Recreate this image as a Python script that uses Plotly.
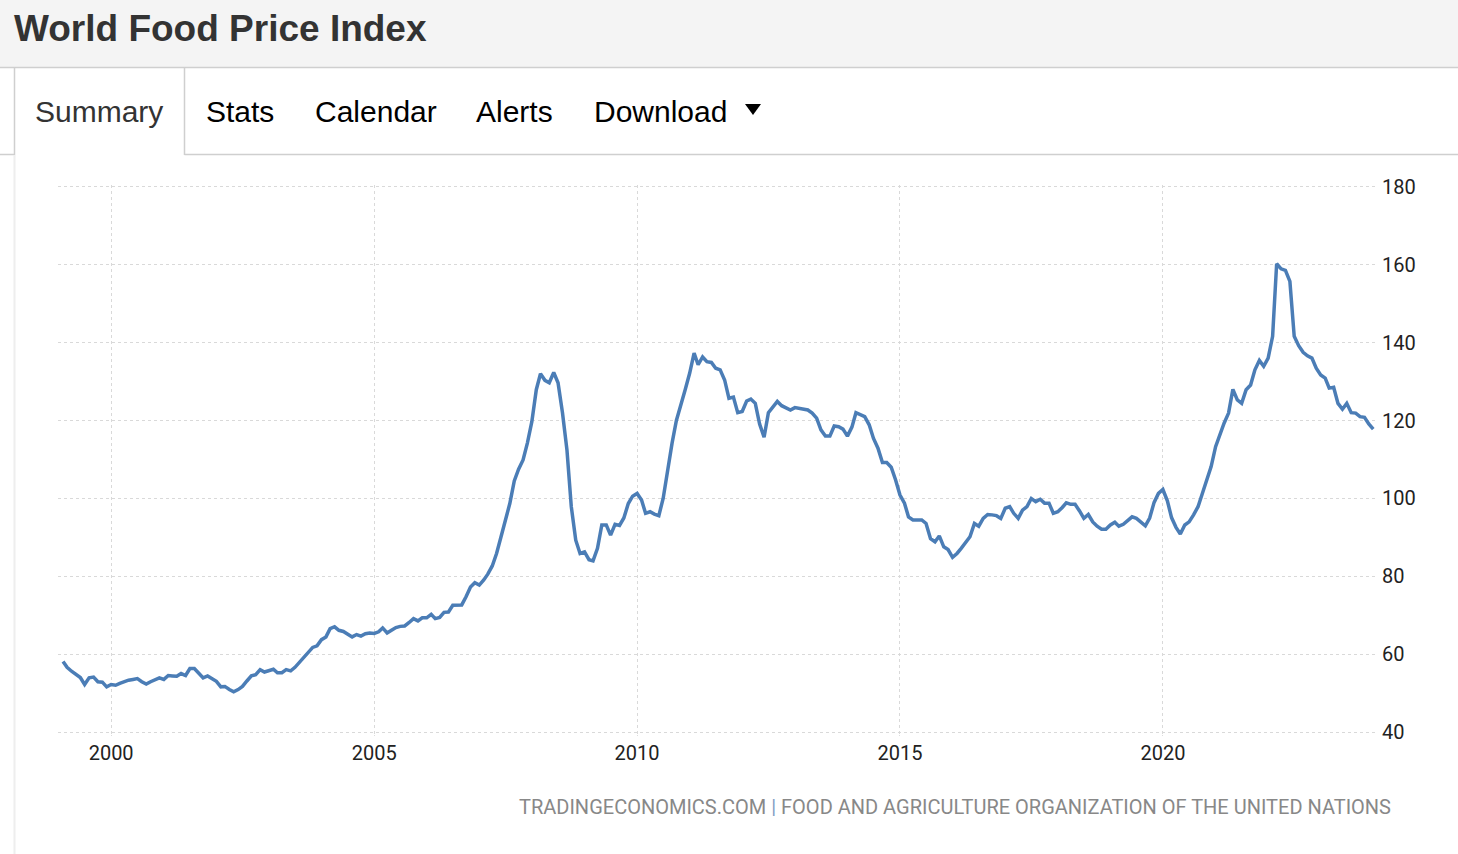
import pandas as pd
import plotly.graph_objects as go

# FAO food price index, monthly (starts Feb 1999)
start_month = "1999-02-01"
v1999 = [58.2, 56.7, 55.7, 55.0, 54.1, 52.3, 54.0, 54.2, 53.0, 52.9, 51.7]
v2000 = [52.3, 52.1, 52.6, 53.1, 53.4, 53.6, 53.8, 53.0, 52.4, 53.0, 53.5, 54.0]
v2001 = [53.6, 54.6, 54.5, 54.4, 55.1, 54.6, 56.4, 56.4, 55.2, 54.0, 54.5, 53.8]
v2002 = [53.1, 51.7, 51.8, 51.0, 50.4, 51.0, 51.8, 53.2, 54.5, 54.8, 56.1, 55.5]
v2003 = [55.8, 56.2, 55.3, 55.3, 56.1, 55.8, 56.7, 58.0, 59.3, 60.5, 61.8, 62.2]
v2004 = [63.8, 64.5, 66.6, 67.1, 66.2, 65.9, 65.2, 64.5, 65.1, 64.7, 65.3, 65.5]
v2005 = [65.4, 65.8, 66.8, 65.5, 66.2, 66.9, 67.2, 67.3, 68.2, 69.2, 68.6, 69.4]
v2006 = [69.4, 70.3, 69.2, 69.5, 70.8, 70.9, 72.6, 72.6, 72.7, 74.8, 77.3, 78.4]
v2007 = [77.8, 79.1, 80.6, 82.7, 85.9, 90.2, 94.5, 98.7, 104.5, 107.5, 109.9, 114.2]
v2008 = [119.7, 127.9, 132.0, 130.3, 129.7, 132.3, 129.7, 121.9, 112.4, 97.9, 89.3, 85.9]
v2009 = [86.3, 84.3, 84.0, 87.2, 93.2, 93.2, 90.6, 93.4, 93.1, 95.0, 98.7, 100.6]
v2010 = [101.3, 99.6, 96.2, 96.6, 96.0, 95.6, 100.0, 107.3, 114.2, 120.0, 123.8, 127.9]
v2011 = [132.1, 137.3, 134.3, 136.3, 135.1, 134.9, 133.4, 133.0, 130.4, 125.7, 126.0, 122.0]
v2012 = [122.3, 125.0, 125.5, 124.4, 119.1, 115.7, 122.0, 123.4, 124.9, 123.8, 123.3, 122.7]
v2013 = [123.3, 123.1, 122.7, 122.7, 121.9, 120.6, 117.6, 116.0, 116.0, 118.6, 118.4, 117.8]
v2014 = [116.0, 118.3, 122.0, 121.4, 121.0, 118.9, 115.4, 112.9, 109.2, 109.2, 108.0, 104.8]
v2015 = [100.9, 98.8, 95.3, 94.5, 94.6, 94.5, 93.6, 89.7, 88.9, 90.4, 87.6, 86.9]
v2016 = [84.9, 85.9, 87.2, 88.6, 90.2, 93.6, 92.9, 94.9, 95.9, 95.8, 95.6, 94.9]
v2017 = [97.5, 97.9, 96.2, 94.9, 97.0, 97.9, 100.0, 99.2, 99.8, 98.8, 98.8, 96.2]
v2018 = [96.6, 97.7, 98.9, 98.5, 98.5, 96.8, 94.9, 95.9, 94.0, 92.9, 92.1, 92.1]
v2019 = [93.2, 93.9, 92.9, 93.4, 94.2, 95.3, 94.9, 94.0, 93.0, 95.0, 99.0, 101.3]
v2020 = [102.3, 99.4, 95.1, 92.6, 90.9, 93.2, 94.0, 95.8, 97.9, 101.3, 105.2, 108.2]
v2021 = [113.3, 116.7, 119.3, 121.9, 128.0, 125.3, 124.4, 127.9, 129.1, 133.0, 135.4, 133.9]
v2022 = [136.0, 141.6, 160.2, 158.9, 158.5, 155.7, 141.6, 139.2, 137.5, 136.6, 136.0, 133.4]
v2023 = [131.7, 130.9, 128.3, 128.5, 124.4, 122.9, 124.4, 122.0, 121.9, 121.0, 120.8, 119.1]
v2024 = [117.8]

x_ticks = ["2000", "2005", "2010", "2015", "2020"]
y_ticks = [40, 60, 80, 100, 120, 140, 160, 180]
tabs = ["Summary", "Stats", "Calendar", "Alerts", "Download"]

values = (v1999 + v2000 + v2001 + v2002 + v2003 + v2004 + v2005 + v2006 + v2007
          + v2008 + v2009 + v2010 + v2011 + v2012 + v2013 + v2014 + v2015 + v2016
          + v2017 + v2018 + v2019 + v2020 + v2021 + v2022 + v2023 + v2024)
dates = pd.date_range(start_month, periods=len(values), freq="MS")

W, H = 1458, 854
L, R, T, B = 58, 1377, 185, 734


def px(x):
    return (x - L) / (R - L)


def py(y):
    return (B - y) / (B - T)


def hline(y, x0, x1, color="#cfcfcf", width=1.5):
    return dict(type="line", xref="paper", yref="paper", x0=px(x0), x1=px(x1),
                y0=py(y), y1=py(y), line=dict(color=color, width=width))


def vline(x, y0, y1, color="#cfcfcf", width=1.5):
    return dict(type="line", xref="paper", yref="paper", x0=px(x), x1=px(x),
                y0=py(y0), y1=py(y1), line=dict(color=color, width=width))


fig = go.Figure()
fig.add_trace(go.Scatter(x=dates, y=values, mode="lines",
                         line=dict(color="#4b7db6", width=3.5),
                         hoverinfo="x+y"))

# page chrome: header bar, tab strip, container border
shapes = [
    dict(type="rect", xref="paper", yref="paper", x0=px(0), x1=px(W),
         y0=py(0), y1=py(67), fillcolor="#f4f4f4", line=dict(width=0),
         layer="below"),
    hline(67.5, 0, W),
    hline(154.5, 0, 14.5),
    hline(154.5, 184.5, W),
    vline(14.5, 67.5, 155),
    vline(184.5, 67.5, 155),
    vline(14.5, 155, H, color="#eeeeee", width=2),
    dict(type="path", xref="paper", yref="paper",
         path=f"M {px(745)},{py(104)} L {px(761)},{py(104)} L {px(753)},{py(115)} Z",
         fillcolor="#000", line=dict(width=0)),
]

tab_x = [35, 206, 315, 476, 594]
annotations = [
    dict(x=px(12), y=py(29), xref="paper", yref="paper", xanchor="left",
         yanchor="middle", showarrow=False, text="<b>World Food Price Index</b>",
         font=dict(family="Liberation Sans", size=37, color="#333333")),
    dict(x=px(1393), y=py(807), xref="paper", yref="paper", xanchor="right",
         yanchor="middle", showarrow=False,
         text="TRADINGECONOMICS.COM <span style='color:#7f9cc4'>|</span> "
              "FOOD AND AGRICULTURE ORGANIZATION OF THE UNITED NATIONS",
         font=dict(family="Roboto", size=20, color="#888888")),
]
for name, tx in zip(tabs, tab_x):
    annotations.append(dict(
        x=px(tx - 2), y=py(112), xref="paper", yref="paper", xanchor="left",
        yanchor="middle", showarrow=False, text=name,
        font=dict(family="Liberation Sans", size=30,
                  color="#333333" if name == "Summary" else "#000000")))

fig.update_layout(
    width=W, height=H,
    margin=dict(l=L, r=W - R, t=T, b=H - B),
    paper_bgcolor="white", plot_bgcolor="white",
    showlegend=False,
    shapes=shapes, annotations=annotations,
    xaxis=dict(
        type="date", range=["1998-12-28", "2024-01-27"],
        tickvals=[f"{y}-01-01" for y in x_ticks], ticktext=x_ticks,
        showgrid=True, gridcolor="#d9d9d9", griddash="dot", gridwidth=1,
        ticks="outside", ticklen=1, tickcolor="#dddddd",
        showline=False, zeroline=False,
        tickfont=dict(family="Roboto", size=20, color="#222222"),
    ),
    yaxis=dict(
        side="right", range=[39.6, 180.4], tickvals=y_ticks,
        showgrid=True, gridcolor="#d9d9d9", griddash="dot", gridwidth=1,
        ticks="", showline=False, zeroline=False, ticklabelstandoff=4,
        tickfont=dict(family="Roboto", size=20, color="#222222"),
    ),
)

fig.write_html("out.html", config={"displayModeBar": False},
               post_script="document.body.style.margin='0';")
